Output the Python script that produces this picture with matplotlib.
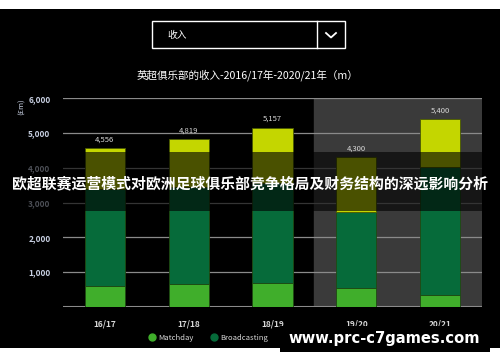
import matplotlib.pyplot as plt
import numpy as np
from matplotlib.patches import Rectangle
from matplotlib.lines import Line2D

plt.rcParams['font.family'] = ['Noto Sans CJK SC', 'DejaVu Sans']

# données
saisons = ["16/17", "17/18", "18/19", "19/20", "20/21"]
matchday = [600, 655, 675, 550, 340]
broadcasting = [2780, 2790, 2900, 2175, 3680]
commercial = [1176, 1374, 1582, 1575, 1380]
totaux = ["4,556", "4,819", "5,157", "4,300", "5,400"]

c_match = '#40ae2b'
c_broad = '#066b3a'
c_comm = '#c4d600'

W, H = 500, 362

def fx(px):
    return px / W

def fy(py):
    return 1 - py / H

fig = plt.figure(figsize=(5, 3.62), dpi=100, facecolor='white')

# fond noir
fig.add_artist(Rectangle((0, fy(348)), 1, fy(9) - fy(348), transform=fig.transFigure,
                         facecolor='black', edgecolor='none', zorder=-10))

ax = fig.add_axes([fx(63), fy(306.7), fx(482) - fx(63), fy(98.3) - fy(306.7)])
ax.set_facecolor('black')
x = np.arange(len(saisons))
larg = 0.48

ax.axvspan(2.5, 4.5, color='#3a3a3a', zorder=0)
for v in range(1000, 7000, 1000):
    ax.axhline(v, color='#8a8a8a', lw=0.9, zorder=1)
ax.axhline(0, color='#8a8a8a', lw=1.5, zorder=1)

m = np.array(matchday)
b = np.array(broadcasting)
c = np.array(commercial)
ax.bar(x, m, width=larg, color=c_match, edgecolor='#1f4a12', lw=0.6, zorder=2)
ax.bar(x, b, width=larg, bottom=m, color=c_broad, edgecolor='#1f4a12', lw=0.6, zorder=2)
ax.bar(x, c, width=larg, bottom=m + b, color=c_comm, edgecolor='#4a5a00', lw=0.6, zorder=2)

for i in range(len(saisons)):
    ax.text(x[i], m[i] + b[i] + c[i] + 130, totaux[i], ha='center', va='bottom',
            fontsize=5.5, color='#d8d8d8')

ax.set_xlim(-0.5, 4.5)
ax.set_ylim(0, 6000)
ax.set_xticks(x)
ax.set_xticklabels(saisons, fontsize=6, color='#d8d8d8', fontweight='bold')
ax.set_yticks(range(1000, 7000, 1000))
ax.set_yticklabels([f"{v:,}" for v in range(1000, 7000, 1000)], fontsize=6,
                   color='#c8d0e2', fontweight='bold')
ax.tick_params(length=0, pad=9)
for s in ax.spines.values():
    s.set_visible(False)

fig.text(fx(22), fy(107), "(£m)", rotation=90, ha='center', va='center',
         fontsize=5.5, color='#c8d0e2')

# menu déroulant
fig.add_artist(Rectangle((fx(152), fy(48)), fx(345) - fx(152), fy(21) - fy(48),
                         transform=fig.transFigure, facecolor='black',
                         edgecolor='white', lw=1.0))
fig.add_artist(Line2D([fx(317), fx(317)], [fy(48), fy(21)], transform=fig.transFigure,
                      color='white', lw=1.0))
fig.add_artist(Line2D([fx(326), fx(331), fx(336)], [fy(33), fy(37.5), fy(33)],
                      transform=fig.transFigure, color='white', lw=1.3))
fig.text(fx(167), fy(35), "收入", ha='left', va='center', fontsize=7, color='white')

fig.text(fx(247), fy(75), "英超俱乐部的收入-2016/17年-2020/21年（m）", ha='center',
         va='center', fontsize=7.6, color='white')

# légende (la troisième entrée est masquée par le filigrane dans l'original)
handles = [Line2D([], [], marker='o', ls='none', color=c_match, markersize=5),
           Line2D([], [], marker='o', ls='none', color=c_broad, markersize=5)]
leg = fig.legend(handles, ["Matchday", "Broadcasting"], ncol=2,
                 loc='center left', bbox_to_anchor=(fx(141), fy(338)), frameon=False,
                 fontsize=5.5, labelcolor='#d8d8d8', handletextpad=0.3,
                 columnspacing=2.2, handlelength=1)

# bandeau semi-transparent
fig.add_artist(Rectangle((0, fy(210.5)), 1, fy(152.3) - fy(210.5), transform=fig.transFigure,
                         facecolor='black', alpha=0.62, edgecolor='none', zorder=5))
fig.text(0.5, fy(183.5), "欧超联赛运营模式对欧洲足球俱乐部竞争格局及财务结构的深远影响分析",
         ha='center', va='center', fontsize=10.7, fontweight='bold', color='white', zorder=6)

# filigrane
fig.add_artist(Rectangle((fx(280), fy(352)), fx(490) - fx(280), fy(326) - fy(352),
                         transform=fig.transFigure, facecolor='black', edgecolor='none', zorder=7))
fig.text(fx(384), fy(338), "www.prc-c7games.com", ha='center', va='center',
         fontsize=10.6, fontweight='bold', color='white', family='DejaVu Sans', zorder=8)

plt.savefig("out.png", dpi=100, facecolor=fig.get_facecolor())
